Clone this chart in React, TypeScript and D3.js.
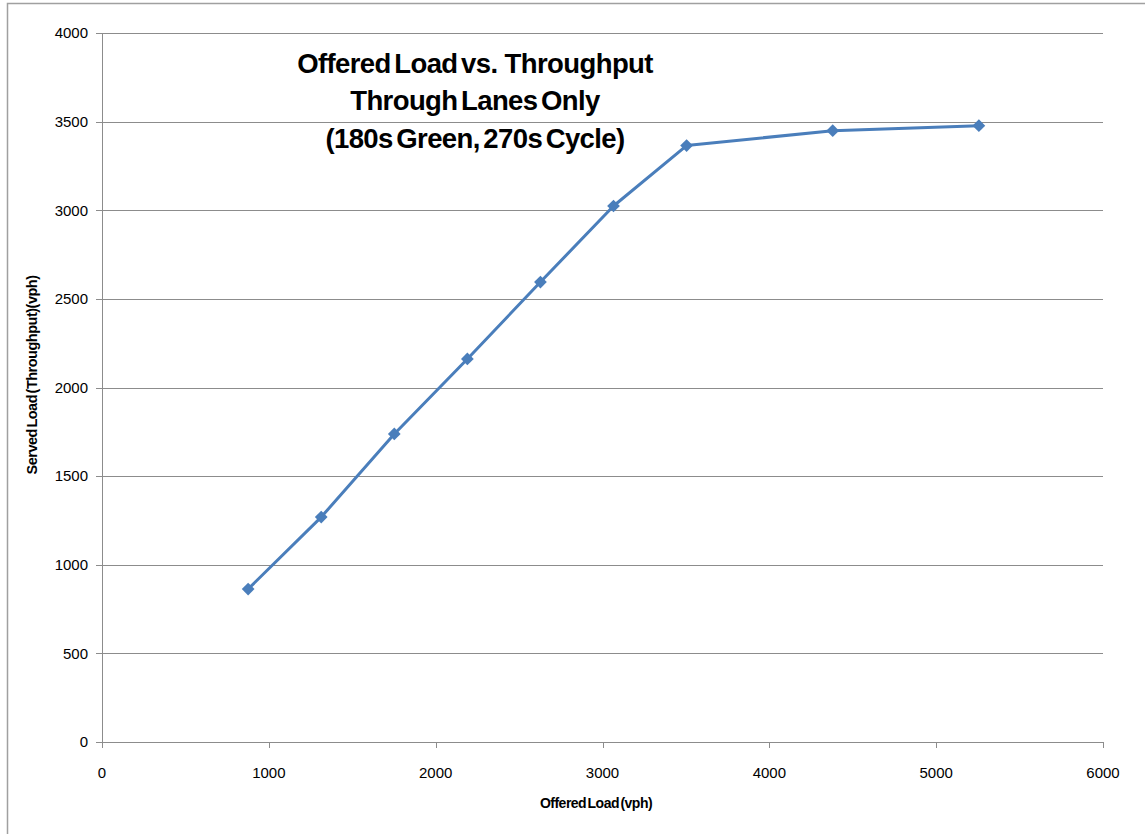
import React from "react";
import * as d3 from "d3";

const offeredLoad = [876, 1314, 1752, 2190, 2628, 3066, 3504, 4380, 5256];
const servedLoad = [863, 1269, 1738, 2161, 2595, 3024, 3365, 3449, 3477];
const xTicks = [0, 1000, 2000, 3000, 4000, 5000, 6000];
const yTicks = [0, 500, 1000, 1500, 2000, 2500, 3000, 3500, 4000];
const titleLines = ["Offered Load vs.  Throughput", "Through Lanes Only", "(180s Green, 270s Cycle)"];
const xTitle = "Offered Load (vph)";
const yTitle = "Served Load (Throughput)(vph)";

export default function App() {
  const W = 1145, H = 834;
  const x = d3.scaleLinear().domain([0, 6000]).range([102, 1103]);
  const y = d3.scaleLinear().domain([0, 4000]).range([742, 33]);
  const line = d3.line<number>().x((_, i) => x(offeredLoad[i])).y((d) => y(d));
  const font = "'Liberation Sans', Arial, sans-serif";
  const blue = "#4A7EBB";
  return (
    <svg width={W} height={H} style={{ position: "absolute", left: 0, top: 0, background: "#fff" }}>
      <rect x={7.5} y={3.5} width={W + 10} height={H + 10} fill="#fff" stroke="#a0a0a0" strokeWidth={1.5} />
      {yTicks.map((t) => (
        <g key={"y" + t}>
          <line x1={96} x2={1103} y1={Math.round(y(t)) + 0.5} y2={Math.round(y(t)) + 0.5} stroke="#8c8c8c" strokeWidth={1} />
          <text x={88} y={y(t)} dy="0.35em" textAnchor="end" fontFamily={font} fontSize={15} fill="#000">{t}</text>
        </g>
      ))}
      <line x1={102.5} x2={102.5} y1={33} y2={742} stroke="#8c8c8c" />
      {xTicks.map((t) => (
        <g key={"x" + t}>
          <line x1={Math.round(x(t)) + 0.5} x2={Math.round(x(t)) + 0.5} y1={742} y2={748} stroke="#8c8c8c" />
          <text x={x(t)} y={773} dy="0.35em" textAnchor="middle" fontFamily={font} fontSize={15} fill="#000">{t}</text>
        </g>
      ))}
      <path d={line(servedLoad) || ""} fill="none" stroke={blue} strokeWidth={3} strokeLinejoin="round" />
      {servedLoad.map((v, i) => (
        <rect key={i} x={-4.5} y={-4.5} width={9} height={9} fill={blue}
          transform={`translate(${x(offeredLoad[i])},${y(v)}) rotate(45)`} />
      ))}
      {titleLines.map((s, i) => (
        <text key={s} x={475} y={63 + i * 37.5} dy="0.35em" textAnchor="middle" fontFamily={font} fontWeight="bold" fontSize={27.5} letterSpacing={-0.6} wordSpacing={-3.5} fill="#000" style={{ whiteSpace: "pre" }}>{s}</text>
      ))}
      <text x={596} y={803} dy="0.35em" textAnchor="middle" fontFamily={font} fontWeight="bold" fontSize={14} letterSpacing={-0.5} wordSpacing={-2} fill="#000">{xTitle}</text>
      <text transform={`translate(32,375) rotate(-90)`} dy="0.35em" textAnchor="middle" fontFamily={font} fontWeight="bold" fontSize={14.5} letterSpacing={-0.5} wordSpacing={-2} fill="#000">{yTitle}</text>
    </svg>
  );
}
